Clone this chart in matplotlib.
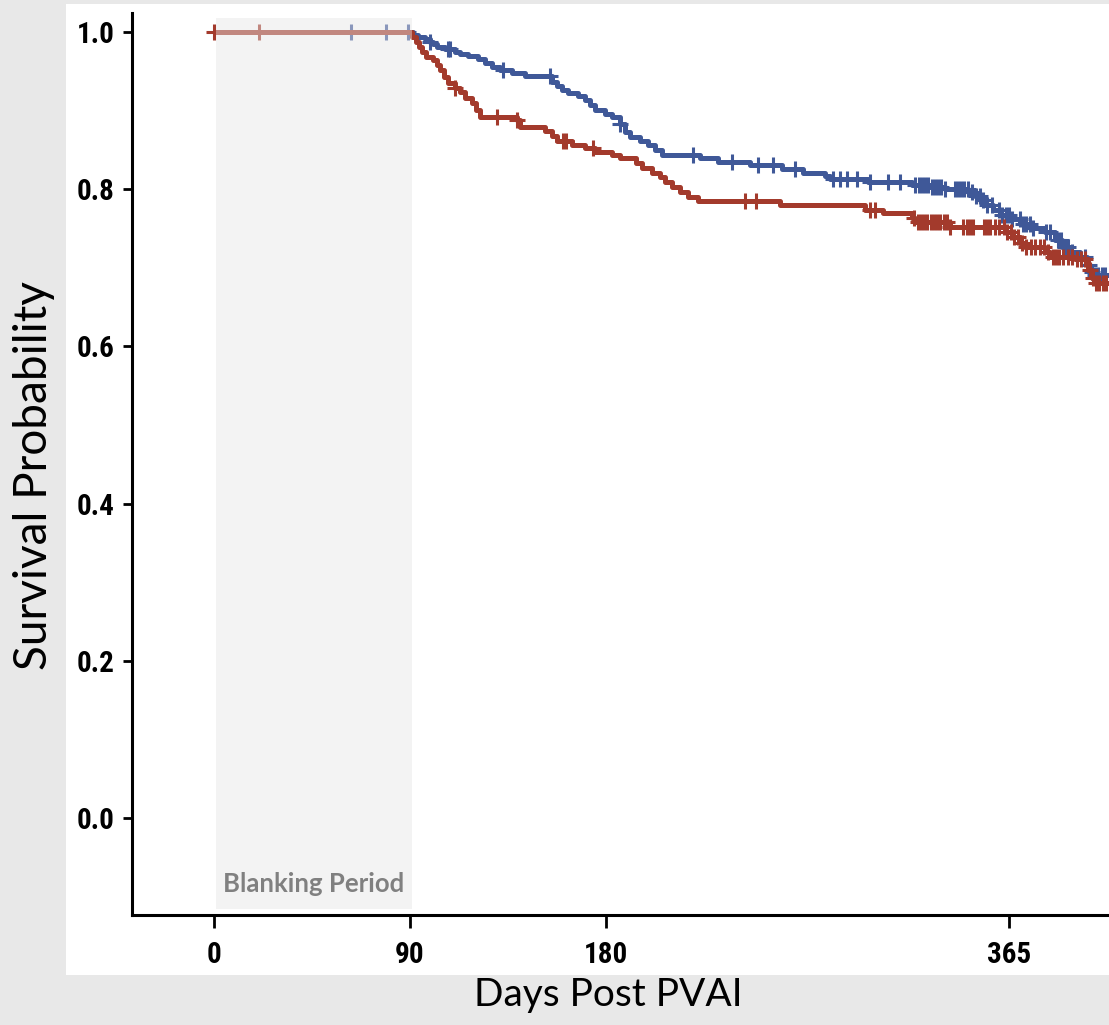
import numpy as np
import matplotlib
matplotlib.use("Agg")
import matplotlib.pyplot as plt
from matplotlib.patches import Rectangle
from matplotlib import font_manager as fm

# ---------------- data ----------------
blue_t = [0, 91.4, 93.7, 96.9, 99.2, 100.6, 102.4, 106, 110.7, 113, 116.6, 121.2, 124.4,
          127.6, 131.3, 136.8, 142.8, 155.2, 157.5, 159.8, 162.5, 167.1, 170.3,
          172.6, 174.9, 179.5, 182.7, 186.4, 188.7, 191, 195.6, 199.3, 202.5, 205.7,
          223.1, 231.4, 246.1, 260.8, 270.4, 280.5, 282.8, 300.3, 320.5, 328.7, 335.6,
          346.2, 349.4, 351.7, 354, 357.7, 360.9, 365.5, 370.1, 374.7, 381.5, 386.1,
          389.3, 393, 397.6, 400.8, 402.2, 404.5, 411]
blue_s = [1.0, 0.996, 0.994, 0.991, 0.987, 0.985, 0.981, 0.978, 0.975, 0.972, 0.969, 0.966, 0.961,
          0.955, 0.952, 0.948, 0.944, 0.936, 0.931, 0.926, 0.922, 0.919, 0.913,
          0.907, 0.901, 0.896, 0.892, 0.883, 0.873, 0.866, 0.861, 0.856, 0.850, 0.844,
          0.840, 0.835, 0.831, 0.826, 0.821, 0.817, 0.813, 0.809, 0.805, 0.803, 0.800,
          0.796, 0.791, 0.786, 0.780, 0.774, 0.767, 0.762, 0.756, 0.751, 0.746, 0.735,
          0.726, 0.720, 0.714, 0.704, 0.695, 0.691, 0.691]
blue_cens = [62.9, 79, 89, 99.2, 107.4, 108.4, 132.7, 154.3, 186.4, 219.9, 237.8, 249.8,
             256.7, 266.8, 284.2, 287.4, 290.6, 295.2, 301.2, 309.5, 315, 321.9, 323.5,
             325, 326.5, 328, 329.5, 331, 332.5, 334, 335.6, 340, 341.5, 343, 344.5, 346,
             348, 350, 351.5, 353, 355, 357, 360.5, 362, 363.5, 365, 366.5, 370, 371.5,
             373, 374.5, 376, 382, 384, 387.5, 389, 390.5, 392, 394, 400, 401.5, 403,
             404.5, 406, 407.5, 409]

red_t = [0, 90.9, 92.7, 94.1, 95.5, 97.3, 100.6, 102.4, 103.8, 105.6, 107.4, 110.7, 113,
         115.2, 118.5, 120.3, 122.1, 139.1, 140.5, 152, 155.2, 157.5, 164.4, 170.3,
         174.9, 182.7, 186.4, 193.8, 196.5, 201.1, 204.8, 207.1, 210.3, 214, 217.6,
         222.2, 259.9, 298.9, 307.2, 320.5, 321.9, 337.9, 363.2, 366.4, 370.1, 372.4,
         381.5, 383.8, 395.3, 401.3, 403.1, 404.5, 411]
red_s = [1.0, 0.994, 0.987, 0.981, 0.975, 0.968, 0.964, 0.958, 0.952, 0.943, 0.935, 0.929, 0.924,
         0.916, 0.910, 0.901, 0.892, 0.888, 0.879, 0.874, 0.868, 0.861, 0.856, 0.852,
         0.847, 0.844, 0.840, 0.833, 0.827, 0.821, 0.816, 0.809, 0.803, 0.796, 0.790,
         0.785, 0.780, 0.774, 0.770, 0.764, 0.758, 0.752, 0.746, 0.739, 0.732, 0.726,
         0.720, 0.714, 0.711, 0.697, 0.687, 0.681, 0.681]
red_cens = [0, 20.7, 110.7, 129.9, 139.1, 160.2, 161.6, 174, 243.8, 248.9, 301, 303.5,
            321.5, 323, 324.5, 326, 327.5, 329, 330.5, 332, 333.5, 335, 336.5, 338,
            344, 345.5, 347, 348.5, 353.5, 355, 356.5, 358.5, 360.5, 362.5, 364, 366,
            367.5, 369, 371, 373, 375, 377, 379, 381, 383, 385, 386.5, 388, 390, 392,
            394, 396, 398, 400, 402, 403.5, 405, 406.5, 408, 409.5]

x_ticks = [0, 90, 180, 365]
y_ticks = [0.0, 0.2, 0.4, 0.6, 0.8, 1.0]
blank_start, blank_end = 1, 91

# ---------------- fonts ----------------
avail = {f.name for f in fm.fontManager.ttflist}


def find_narrow_bold():
    prefs = ['Liberation Sans Narrow', 'Arial Narrow', 'Roboto Condensed',
             'Open Sans Condensed', 'Noto Sans Condensed', 'DejaVu Sans Condensed',
             'Lato Condensed']
    fl = fm.fontManager.ttflist
    for p in prefs:
        for f in fl:
            if f.name == p and (f.weight in ('bold', 700) or str(f.weight) == '700'):
                return fm.FontProperties(fname=f.fname)
    for f in fl:
        fn = f.fname.lower()
        if ('narrow' in fn or 'condensed' in fn) and 'bold' in fn and 'italic' not in fn \
                and 'oblique' not in fn and 'semibold' not in fn and 'extra' not in fn:
            return fm.FontProperties(fname=f.fname)
    for f in fl:
        if str(f.stretch) in ('condensed', 'semi-condensed') and f.weight in ('bold', 700) \
                and f.style == 'normal':
            return fm.FontProperties(fname=f.fname)
    return None


narrow = find_narrow_bold()
if narrow is not None:
    tick_fp = narrow
    tick_size = 21
else:
    fam = 'Roboto' if 'Roboto' in avail else 'DejaVu Sans'
    tick_fp = fm.FontProperties(family=fam, weight='bold')
    tick_size = 19
tick_fp.set_size(tick_size)

lab_font = ['Lato'] if 'Lato' in avail else ['DejaVu Sans']

BLUE = '#3f5898'
RED = '#a33a2c'

fig = plt.figure(figsize=(11.09, 10.25), dpi=100, facecolor='#e8e8e8')
# white panel
fig.patches.append(Rectangle((66/1109, 1-975/1025), 1-66/1109, (975-4)/1025,
                             transform=fig.transFigure, facecolor='white',
                             edgecolor='none', zorder=-10))

ax = fig.add_axes([132/1109, 1-915/1025, 1-132/1109, (915-13)/1025])
ax.set_facecolor('none')
ax.set_zorder(1)

ax.set_xlim(-37.6, 410.9)
ax.set_ylim(-0.1234, 1.0242)


def surv_at(ts, ss, t):
    idx = np.searchsorted(np.asarray(ts), t, side='right') - 1
    return np.asarray(ss)[max(idx, 0)]


for ts, ss, cens, col in [(blue_t, blue_s, blue_cens, BLUE), (red_t, red_s, red_cens, RED)]:
    ax.step(ts, ss, where='post', color=col, lw=3.6, zorder=3, solid_capstyle='butt')
    cy = [surv_at(ts, ss, c) for c in cens]
    ax.plot(cens, cy, linestyle='none', marker='+', markersize=12, mew=2.2,
            color=col, zorder=3)

# blanking period overlay
ax.add_patch(Rectangle((blank_start, -0.116), blank_end - blank_start, 1.134,
                       facecolor='#e6e6e6', alpha=0.45, edgecolor='none', zorder=4))
ax.text((blank_start + blank_end) / 2, -0.0845, 'Blanking Period', ha='center', va='center',
        fontsize=18.5, fontweight='bold', color='#808080', family=lab_font, zorder=5)

for s in ['top', 'right']:
    ax.spines[s].set_visible(False)
for s in ['left', 'bottom']:
    ax.spines[s].set_linewidth(2.2)

ax.set_xticks(x_ticks)
ax.set_xticklabels([str(v) for v in x_ticks])
ax.set_yticks(y_ticks)
ax.set_yticklabels([f'{v:.1f}' for v in y_ticks])
ax.tick_params(axis='x', length=9.5, width=2, pad=9)
ax.tick_params(axis='y', length=6.5, width=2, pad=6)
for lab in ax.get_xticklabels() + ax.get_yticklabels():
    lab.set_fontproperties(tick_fp)

fig.text(608/1109, 1-995/1025, 'Days Post PVAI', ha='center', va='center',
         fontsize=28, family=lab_font)
fig.text(34/1109, 1-476/1025, 'Survival Probability', ha='center', va='center',
         rotation=90, fontsize=33, family=lab_font)

fig.savefig('out.png', dpi=100, facecolor=fig.get_facecolor())
